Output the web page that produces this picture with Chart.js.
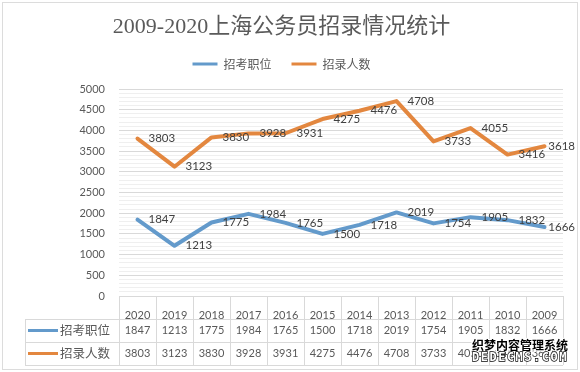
<!DOCTYPE html>
<html>
<head>
<meta charset="utf-8">
<script src="https://cdn.jsdelivr.net/npm/chart.js@4.4.1/dist/chart.umd.min.js"></script>
<style>
html,body{margin:0;padding:0;background:#fff;}
#wrap{position:relative;width:580px;height:372px;overflow:hidden;background:#fff;}
#frame{position:absolute;left:2px;top:2px;width:576px;height:368px;border:1px solid #dcdcdc;box-sizing:border-box;}
#c{position:absolute;left:0;top:0;}
.wm1{position:absolute;left:472px;top:336px;font:bold 12px "Noto Sans CJK SC";color:#000;letter-spacing:0px;
  text-shadow:1px 0 #fff,-1px 0 #fff,0 1px #fff,0 -1px #fff,1px 1px #fff,-1px -1px #fff,1px -1px #fff,-1px 1px #fff;white-space:nowrap;}
.wm2{position:absolute;left:472px;top:350px;font:bold 12px "DejaVu Sans Mono";color:#fff;letter-spacing:1.5px;
  -webkit-text-stroke:1.3px #000;paint-order:stroke fill;white-space:nowrap;}
</style>
</head>
<body>
<div id="wrap">
  <div id="frame"></div>
  <canvas id="c" width="580" height="372"></canvas>
  <div class="wm1">织梦内容管理系统</div>
  <div class="wm2">DEDECMS.COM</div>
</div>
<script>
const titleText = '2009-2020上海公务员招录情况统计';
const years = ['2020','2019','2018','2017','2016','2015','2014','2013','2012','2011','2010','2009'];
const positions = [1847,1213,1775,1984,1765,1500,1718,2019,1754,1905,1832,1666];
const hires = [3803,3123,3830,3928,3931,4275,4476,4708,3733,4055,3416,3618];
const seriesNames = ['招考职位','招录人数'];
const seriesColors = ['#639acb','#e3873f'];
const yTickLabels = [0,500,1000,1500,2000,2500,3000,3500,4000,4500,5000];

const numFont = 'Lato, "Noto Sans", sans-serif';
const cjkFont = '"Noto Sans CJK SC", sans-serif';

const legendSpacer = {
  id: 'legendSpacer',
  beforeLayout(chart) {
    const lg = chart.legend;
    if (lg && !lg._spaced) {
      const orig = lg.fit;
      lg.fit = function() { orig.call(this); this.height += 9; };
      lg._spaced = true;
    }
  }
};

const valueLabels = {
  id: 'valueLabels',
  afterDatasetsDraw(chart) {
    const ctx = chart.ctx;
    ctx.save();
    ctx.font = '11.5px ' + numFont;
    ctx.fillStyle = '#404040';
    ctx.textAlign = 'left';
    ctx.textBaseline = 'middle';
    chart.data.datasets.forEach((ds, di) => {
      const meta = chart.getDatasetMeta(di);
      meta.data.forEach((pt, i) => {
        const t = String(ds.data[i]);
        const w = ctx.measureText(t).width;
        const lx = Math.min(pt.x + 11, chart.width - 5 - w);
        ctx.fillText(t, lx, pt.y);
      });
    });
    ctx.restore();
  }
};

const dataTable = {
  id: 'dataTable',
  afterDraw(chart) {
    const {ctx, chartArea: a, scales: {x}} = chart;
    const n = years.length;
    const rowH = 23;
    const y0 = a.bottom, y1 = y0 + rowH, y2 = y1 + rowH, y3 = y2 + rowH;
    const labelLeft = 25;
    ctx.save();
    ctx.strokeStyle = '#d9d9d9';
    ctx.lineWidth = 1;
    ctx.beginPath();
    [y1, y2, y3].forEach(y => { ctx.moveTo(labelLeft, Math.round(y) + 0.5); ctx.lineTo(a.right, Math.round(y) + 0.5); });
    for (let i = 0; i <= n; i++) {
      const bx = Math.round(x.getPixelForValue(i - 0.5)) + 0.5;
      ctx.moveTo(bx, y0); ctx.lineTo(bx, y3);
    }
    ctx.moveTo(labelLeft + 0.5, y1); ctx.lineTo(labelLeft + 0.5, y3);
    ctx.stroke();

    const rows = [positions, hires];
    const rowYs = [y1 + rowH / 2, y2 + rowH / 2];
    ctx.font = '11px ' + numFont;
    ctx.fillStyle = '#595959';
    ctx.textAlign = 'center';
    ctx.textBaseline = 'middle';
    rows.forEach((vals, r) => {
      vals.forEach((v, i) => ctx.fillText(String(v), x.getPixelForValue(i), rowYs[r]));
    });
    rows.forEach((vals, r) => {
      ctx.fillStyle = seriesColors[r];
      ctx.fillRect(28, rowYs[r] - 1.5, 30, 3);
      ctx.fillStyle = '#595959';
      ctx.font = '12.5px ' + cjkFont;
      ctx.textAlign = 'left';
      ctx.fillText(seriesNames[r], 60, rowYs[r]);
    });
    ctx.restore();
  }
};

new Chart(document.getElementById('c'), {
  type: 'line',
  data: {
    labels: years,
    datasets: [
      { label: seriesNames[0], data: positions, borderColor: seriesColors[0], backgroundColor: seriesColors[0],
        borderWidth: 4, pointRadius: 0, tension: 0, borderJoinStyle: 'round', borderCapStyle: 'round' },
      { label: seriesNames[1], data: hires, borderColor: seriesColors[1], backgroundColor: seriesColors[1],
        borderWidth: 4, pointRadius: 0, tension: 0, borderJoinStyle: 'round', borderCapStyle: 'round' }
    ]
  },
  options: {
    responsive: false,
    animation: false,
    layout: { padding: { left: 0, right: 17, top: 0, bottom: 0 } },
    plugins: {
      tooltip: { enabled: false },
      title: {
        display: true, text: titleText, color: '#5a5a5a',
        font: { family: '"Liberation Serif", "Noto Sans CJK SC", serif', size: 22, weight: 'normal', lineHeight: 1 },
        padding: { top: 16, bottom: 0 }
      },
      legend: {
        display: true,
        labels: {
          color: '#595959', font: { family: cjkFont, size: 12 },
          boxWidth: 25, boxHeight: 3, padding: 20,
          generateLabels(chart) {
            const items = Chart.defaults.plugins.legend.labels.generateLabels(chart);
            return items.map(it => Object.assign(it, { lineWidth: 0, fillStyle: it.strokeStyle }));
          }
        }
      }
    },
    scales: {
      x: {
        offset: true,
        grid: { display: false },
        border: { display: false },
        ticks: { color: '#595959', font: { family: numFont, size: 11 }, padding: 5, autoSkip: false, maxRotation: 0 },
        afterFit(s) { s.height = 76; }
      },
      y: {
        min: 0, max: 5000,
        afterBuildTicks(s) {
          const t = [];
          for (let v = 0; v <= 5000; v += 100) t.push({ value: v });
          s.ticks = t;
        },
        afterFit(s) { s.width = 119; },
        border: { display: false },
        grid: {
          drawTicks: false,
          color: c => (c.tick && yTickLabels.includes(c.tick.value)) ? '#d9d9d9' : '#efefef',
          lineWidth: 1
        },
        ticks: {
          autoSkip: false, padding: 14, color: '#595959', font: { family: numFont, size: 11 },
          callback: v => yTickLabels.includes(v) ? String(v) : ''
        }
      }
    }
  },
  plugins: [legendSpacer, valueLabels, dataTable]
});
</script>
</body>
</html>
